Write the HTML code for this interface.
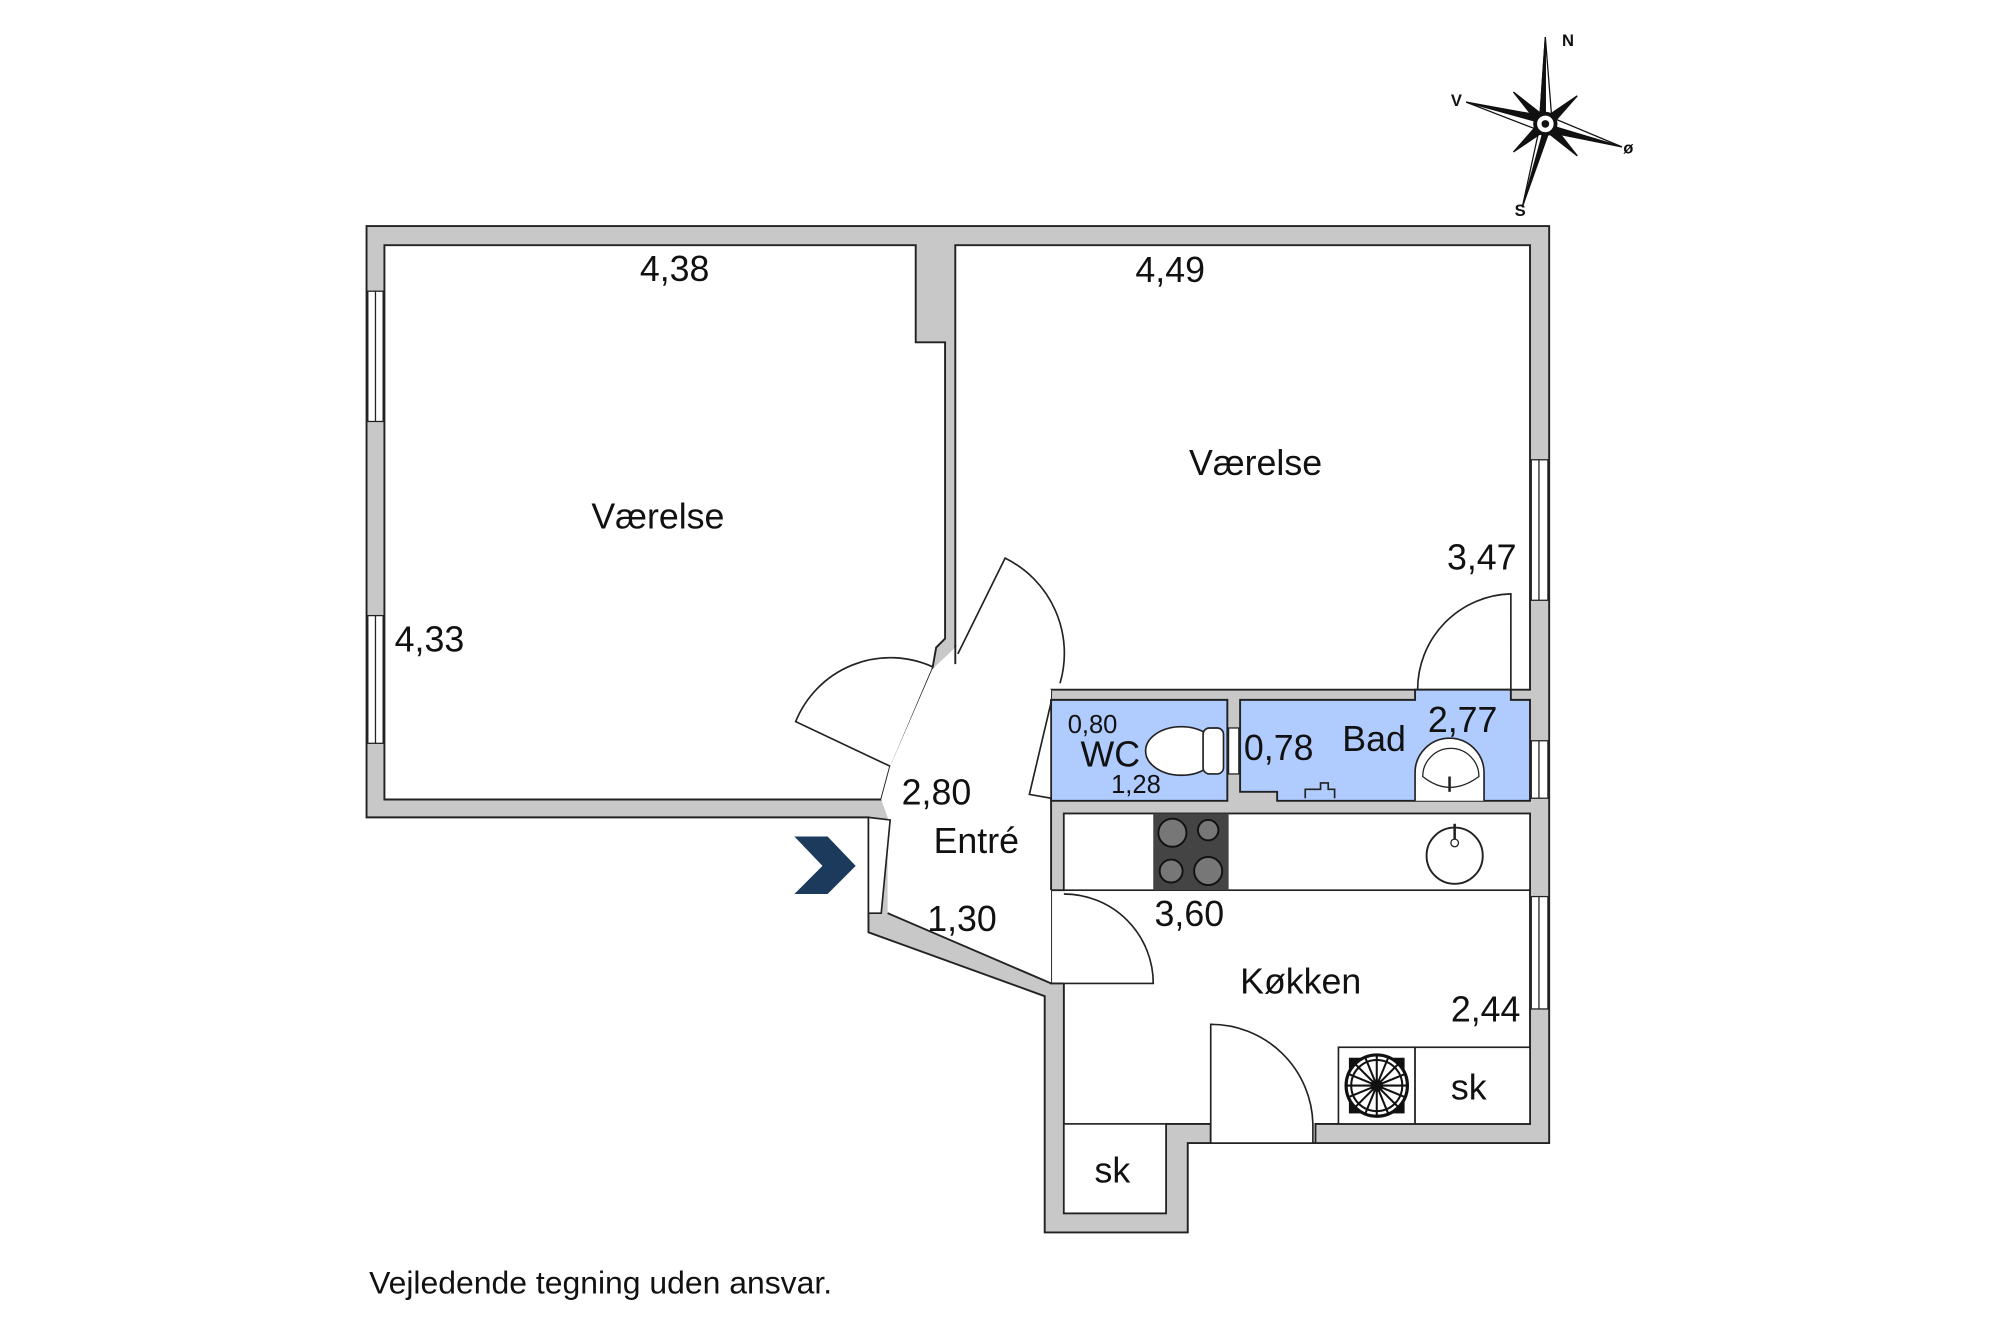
<!DOCTYPE html>
<html><head><meta charset="utf-8"><style>
html,body{margin:0;padding:0;background:#fff;}
svg{display:block;}
text{font-family:"Liberation Sans",sans-serif;fill:#111;}
</style></head><body>
<svg width="2000" height="1334" viewBox="0 0 1566 1044.5" xmlns="http://www.w3.org/2000/svg">
<rect width="1566" height="1045" fill="#fff"/>
<!-- outer walls -->
<polygon points="287,177 1213,177 1213,895 930,895 930,965 818,965 818,780 680,730 680,640 287,640" fill="#c8c8c8" stroke="#222" stroke-width="1.5"/>
<!-- rooms -->
<g fill="#fff" stroke="#222" stroke-width="1.5">
<polygon points="301,192 717,192 717,268 740,268 740,500 733,507 730,524 697,600 690,626 301,626"/>
<polygon points="748,192 1198,192 1198,540 823,540 823,548 748,520"/>
<polygon points="833,637 1198,637 1198,880 1030,880 1030,895 948,895 948,880 913,880 913,950 833,950 833,770 823,770 823,697 833,697"/>
</g>
<polygon points="730,524 750,505 823,540 823,770 695,715 695,640 690,626 697,600" fill="#fff"/>
<line x1="695" y1="715" x2="823" y2="770" stroke="#222" stroke-width="1.5"/>
<line x1="823" y1="548" x2="823" y2="697" stroke="#222" stroke-width="1.5"/>
<line x1="748" y1="520" x2="748" y2="505" stroke="#222" stroke-width="1.5"/>
<!-- WC & Bad -->
<polygon points="823,548 961,548 961,627 823,627" fill="#b0ccff" stroke="#222" stroke-width="1.5"/>
<polygon points="971,548 1108,548 1108,540 1183,540 1183,548 1198,548 1198,627 1000,627 1000,620 971,620" fill="#b0ccff" stroke="#222" stroke-width="1.5"/>
<!-- windows -->
<g fill="#fff" stroke="#222" stroke-width="1">
<rect x="288" y="228" width="12" height="102"/><line x1="294" y1="228" x2="294" y2="330"/>
<rect x="288" y="482" width="12" height="100"/><line x1="294" y1="482" x2="294" y2="582"/>
<rect x="1199" y="360" width="13" height="110"/><line x1="1205" y1="360" x2="1205" y2="470"/>
<rect x="1199" y="580" width="13" height="45"/><line x1="1205" y1="580" x2="1205" y2="625"/>
<rect x="1199" y="702" width="13" height="88"/><line x1="1205" y1="702" x2="1205" y2="790"/>
</g>
<!-- doors -->
<g fill="#fff" stroke="#222" stroke-width="1.3">
<path d="M697,600 L623,565 A80,80 0 0 1 730,522"/>
<path d="M750,512 L787,437 A83,83 0 0 1 830,535" fill="none"/>
<path d="M1183,540 L1183,465 A75,75 0 0 0 1110,540" fill="none"/>
<path d="M833,770 L903,770 A70,70 0 0 0 833,700" fill="#fff"/>
<path d="M948,895 L948,802 A80,80 0 0 1 1028,880 L1028,895 Z"/>
<polygon points="823,550 806,622 823,625"/>
<polygon points="680,640 697,642 690,715 680,715"/>
</g>
<polygon points="622,655 648,655 670,678 648,700 622,700 644,678" fill="#1b3a5c"/>
<!-- kitchen counter -->
<rect x="833" y="637" width="365" height="60" fill="#fff" stroke="#222" stroke-width="1.3"/>
<rect x="903" y="637" width="59" height="60" fill="#444"/>
<g fill="#777" stroke="#111" stroke-width="1.5">
<circle cx="918" cy="652" r="11"/><circle cx="946" cy="650" r="8"/>
<circle cx="917" cy="682" r="9"/><circle cx="946" cy="682" r="11"/>
</g>
<circle cx="1139" cy="670" r="22" fill="#fff" stroke="#222" stroke-width="1.5"/>
<circle cx="1139" cy="660" r="3" fill="#fff" stroke="#222"/>
<line x1="1139" y1="645" x2="1139" y2="657" stroke="#222" stroke-width="2"/>
<!-- sk boxes -->
<rect x="1048" y="820" width="60" height="60" fill="#fff" stroke="#222" stroke-width="1.3"/>
<rect x="1108" y="820" width="90" height="60" fill="#fff" stroke="#222" stroke-width="1.3"/>
<rect x="833" y="880" width="80" height="70" fill="#fff" stroke="#222" stroke-width="1.3"/>
<g transform="translate(1078,850)" stroke="#111" fill="none" stroke-width="1.6">
<rect x="-21" y="-21" width="42" height="42" fill="#111"/>
<circle r="24" fill="#fff" stroke-width="2.5"/><circle r="20"/>
<path d="M0,-24V24M-24,0H24M-17,-17L17,17M-17,17L17,-17M-9,-22L9,22M9,-22L-9,22M-22,-9L22,9M-22,9L22,-9"/>
<circle r="4" fill="#111"/>
</g>
<!-- toilet -->
<ellipse cx="925" cy="588" rx="28" ry="19" fill="#fff" stroke="#222" stroke-width="1.3"/>
<rect x="942" y="570" width="16" height="36" rx="5" fill="#fff" stroke="#222" stroke-width="1.3"/>
<rect x="962" y="570" width="8" height="36" fill="#fff" stroke="#222" stroke-width="1"/>
<!-- basin -->
<path d="M1108,627 L1108,605 A27,27 0 1 1 1162,605 L1162,627" fill="#fff" stroke="#222" stroke-width="1.3"/>
<path d="M1114,608 A22,22 0 1 1 1158,608 Q1135,625 1114,608Z" fill="#fff" stroke="#222"/>
<line x1="1135" y1="608" x2="1135" y2="620" stroke="#222" stroke-width="2"/>
<path d="M1022,625 v-7 h12 v-5 h6 v5 h5 v7" fill="none" stroke="#222" stroke-width="1.3"/>
<!-- labels -->
<g font-size="28">
<text x="501" y="220">4,38</text>
<text x="889" y="221">4,49</text>
<text x="463" y="414">Værelse</text>
<text x="931" y="372">Værelse</text>
<text x="309" y="510">4,33</text>
<text x="1133" y="446">3,47</text>
<text x="706" y="630">2,80</text>
<text x="731" y="668">Entré</text>
<text x="726" y="729">1,30</text>
<text x="904" y="725">3,60</text>
<text x="971" y="778">Køkken</text>
<text x="1136" y="800">2,44</text>
<text x="1136" y="861">sk</text>
<text x="857" y="926">sk</text>
<text x="846" y="600">WC</text>
<text x="974" y="595">0,78</text>
<text x="1051" y="588">Bad</text>
<text x="1118" y="573">2,77</text>
</g>
<g font-size="20">
<text x="836" y="574">0,80</text>
<text x="870" y="621">1,28</text>
</g>
<text x="289" y="1013" font-size="25">Vejledende tegning uden ansvar.</text>
<!-- compass -->
<g transform="translate(1210,97)">
<g stroke="#111" stroke-width="1" fill="#fff">
<polygon points="0,-68 5,-5 -5,5"/><polygon points="0,-68 -5,5 0,0" fill="#111"/>
<polygon points="-18,65 5,-5 -5,5"/><polygon points="-18,65 5,0 0,0" fill="#111"/>
<polygon points="-62,-17 5,-5 -5,5"/><polygon points="-62,-17 0,-5 0,0" fill="#111"/>
<polygon points="60,18 5,-5 -5,5"/><polygon points="60,18 0,5 0,0" fill="#111"/>
<polygon points="-25,-25 3,-3 -3,3" fill="#111"/><polygon points="25,25 3,-3 -3,3" fill="#111"/>
<polygon points="25,-22 3,3 -3,-3" fill="#111"/><polygon points="-25,22 3,3 -3,-3" fill="#111"/>
</g>
<circle r="8" fill="#fff" stroke="#111" stroke-width="3"/><circle r="3" fill="#111"/>
</g>
<g font-size="13" font-weight="bold">
<text x="1223" y="36">N</text><text x="1136" y="83">V</text>
<text x="1271" y="120">ø</text><text x="1186" y="169">S</text>
</g>
</svg>
</body></html>
